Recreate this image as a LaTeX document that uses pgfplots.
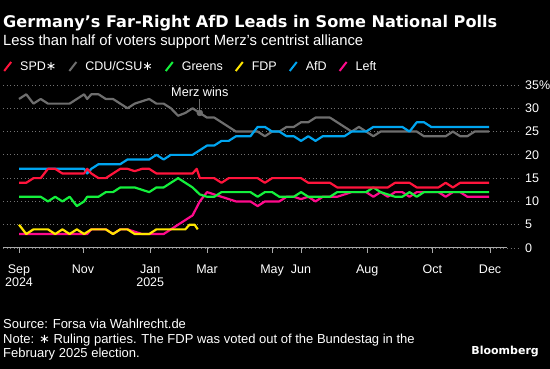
\documentclass[border=0pt]{standalone}
\usepackage{pgfplots}
\pgfplotsset{compat=1.18}
\usepackage{fontspec}
\setmainfont{Liberation Sans}
\newfontfamily\dejavu{DejaVu Sans}
\definecolor{spdc}{RGB}{255,20,60}
\definecolor{cduc}{RGB}{110,110,110}
\definecolor{grnc}{RGB}{20,240,60}
\definecolor{fdpc}{RGB}{255,230,0}
\definecolor{afdc}{RGB}{0,165,240}
\definecolor{leftc}{RGB}{255,10,140}
\definecolor{gridgray}{RGB}{115,115,115}
\definecolor{tickgray}{RGB}{170,170,170}
\begin{document}
\begin{tikzpicture}[x=1pt,y=1pt]
\fill[black] (0,0) rectangle (550,369);
\node[anchor=base west, inner sep=0pt, text=white, font=\dejavu\bfseries\fontsize{16.1}{18}\selectfont] at (3,341.6) {Germany’s Far-Right AfD Leads in Some National Polls};
\node[anchor=base west, inner sep=0pt, text=white, font=\fontsize{14.8}{17}\selectfont] at (3,323.4) {Less than half of voters support Merz’s centrist alliance};
\begin{axis}[
  at={(3pt,121pt)}, anchor=south west,
  scale only axis, width=515pt, height=163pt,
  xmin=-15.5, xmax=483, ymin=0, ymax=35,
  axis x line*=bottom, axis y line*=right,
  x axis line style={draw=none,-}, y axis line style={draw=none,-},
  xtick={0,62,127,182,245,273,337,400,456},
  xticklabels={Sep\\2024,Nov,Jan\\2025,Mar,May,Jun,Aug,Oct,Dec},
  xtick align=outside, major tick length=5pt,
  xtick style={color=tickgray, line width=0.8pt},
  ytick={0,5,10,15,20,25,30,35},
  yticklabels={0,5,10,15,20,25,30,35\%},
  ytick style={draw=none},
  xticklabel style={align=center, text=white, font=\fontsize{12.5}{13}\selectfont, inner sep=0pt, anchor=north, yshift=-12pt},
  yticklabel style={text=white, font=\fontsize{12.5}{13}\selectfont, inner sep=0pt, anchor=west, xshift=7pt},
  /pgf/number format/assume math mode=true,
  ymajorgrids, grid style={draw=gridgray, line width=0.9pt, dash pattern=on 1pt off 2.6pt},
  legend columns=-1,
  legend style={at={(0,1)}, anchor=west, yshift=18.5pt, draw=none, fill=none, text=white,
    font=\fontsize{12.5}{14}\selectfont, inner sep=0pt, nodes={inner sep=0pt},
    /tikz/every odd column/.append style={column sep=8pt},
    /tikz/every even column/.append style={column sep=12pt}},
  legend image code/.code={\draw[#1, line width=2pt] (0pt,-4.5pt) -- (7pt,4.5pt);},
  clip=false,
]
\addlegendimage{spdc}\addlegendentry{SPD{\dejavu ∗}}
\addlegendimage{cduc}\addlegendentry{CDU/CSU{\dejavu ∗}}
\addlegendimage{grnc}\addlegendentry{Greens}
\addlegendimage{fdpc}\addlegendentry{FDP}
\addlegendimage{afdc}\addlegendentry{AfD}
\addlegendimage{leftc}\addlegendentry{Left}

\draw[tickgray, line width=1pt] (axis cs:-15.5,0) -- (axis cs:472.4,0);

% Left
\addplot[leftc, line width=2.2pt, line join=round, forget plot] coordinates {
(0,3)(7,3)(14,3)(21,3)(28,3)(35,3)(42,3)(49,3)(56,3)(63,3)(66,3)(70,4)(77,4)(84,4)(91,3)(98,4)(105,4)(112,3.5)(119,3)(126,3)(133,3)(140,3)(147,4)(154,5)(161,6)(168,7)(175,10)(182,12)(189,11.5)(196,11)(203,10.5)(210,10)(217,10)(224,10)(231,9)(238,10)(245,10)(252,10)(259,11)(266,11)(273,10.5)(280,11)(287,10)(294,11)(301,11)(308,11)(315,11.5)(322,12)(329,12)(336,12)(343,11)(350,12)(357,11)(364,12)(371,12)(378,11)(385,12)(392,12)(399,12)(406,12)(413,11)(420,12)(427,12)(434,11)(441,11)(448,11)(455,11)};
% CDU/CSU
\addplot[cduc, line width=2.2pt, line join=round, forget plot] coordinates {
(0,32)(7,33)(14,31)(21,32)(28,31)(35,31)(42,31)(49,31)(56,32)(63,33)(66,32)(70,33)(77,33)(84,32)(91,32)(98,31)(105,30)(112,31)(119,31.5)(126,32)(133,31)(140,31)(147,30)(154,28.4)(161,29)(168,30)(175,29)(182,28)(189,28)(196,27)(203,26)(210,25)(217,25)(224,25)(231,25)(238,24)(245,25)(252,25)(259,26)(266,26)(273,27)(280,27)(287,28)(294,28)(301,28)(308,27)(315,26)(322,25)(329,26)(336,25)(343,24)(350,25)(357,25)(364,25)(371,25)(378,25)(385,25)(392,24)(399,24)(406,24)(413,24)(420,25)(427,24)(434,24)(441,25)(448,25)(455,25)};
% AfD
\addplot[afdc, line width=2.2pt, line join=round, forget plot] coordinates {
(0,17)(7,17)(14,17)(21,17)(28,17)(35,17)(42,17)(49,17)(56,17)(63,17)(66,16)(70,17)(77,18)(84,18)(91,18)(98,18)(105,19)(112,19)(119,19)(126,19)(133,20)(140,19)(147,20)(154,20)(161,20)(168,20)(175,21)(182,22)(189,22)(196,23)(203,23)(210,24)(217,24)(224,24)(231,26)(238,26)(245,25)(252,25)(259,24)(266,24)(273,23)(280,24)(287,23)(294,24)(301,24)(308,24)(315,24)(322,25)(329,25)(336,25)(343,26)(350,26)(357,26)(364,26)(371,26)(378,25)(385,27)(392,27)(399,26)(406,26)(413,26)(420,26)(427,26)(434,26)(441,26)(448,26)(455,26)};
% Greens
\addplot[grnc, line width=2.2pt, line join=round, forget plot] coordinates {
(0,11)(7,11)(14,11)(21,11)(28,10)(35,11)(42,10)(49,11)(56,9)(63,10)(66,11)(70,11)(77,11)(84,12)(91,12)(98,13)(105,13)(112,13)(119,12.5)(126,12)(133,13)(140,13)(147,14)(154,15)(161,14)(168,13)(175,11.5)(182,11)(189,11)(196,12)(203,12)(210,12)(217,12)(224,12)(231,11)(238,12)(245,12)(252,11)(259,11)(266,11)(273,12)(280,11)(287,11)(294,11)(301,11)(308,12)(315,12)(322,12)(329,12)(336,12)(343,13)(350,12)(357,11.5)(364,11)(371,11)(378,12)(385,11)(392,12)(399,12)(406,12)(413,12)(420,12)(427,12)(434,12)(441,12)(448,12)(455,12)};
% FDP
\addplot[fdpc, line width=2.2pt, line join=round, forget plot] coordinates {
(0,5)(7,3)(14,4)(21,4)(28,4)(35,3)(42,4)(49,3)(56,4)(63,3)(70,4)(77,4)(84,4)(91,3)(98,4)(105,4)(112,3)(119,3)(126,3)(133,4)(140,4)(147,4)(154,4)(161,4)(165,5)(170,5)(173,4)};
% SPD
\addplot[spdc, line width=2.2pt, line join=round, forget plot] coordinates {
(0,14)(7,14)(14,15)(21,15)(28,17)(35,17)(42,16)(49,16)(56,16)(63,16)(66,17)(70,16)(77,15)(84,15)(91,16)(98,17)(105,17)(112,16.5)(119,17)(126,17)(133,16)(140,16)(147,16)(154,16)(161,16)(168,16)(172,17)(175,15)(182,15)(189,15)(196,14)(203,15)(210,15)(217,15)(224,15)(231,15)(238,14)(245,15)(252,15)(259,15)(266,15)(273,15)(280,14)(287,14)(294,14)(301,14)(308,13)(315,13)(322,13)(329,13)(336,13)(343,13)(350,13)(357,13)(364,14)(371,14)(378,14)(385,13)(392,13)(399,13)(406,13)(413,14)(420,13)(427,14)(434,14)(441,14)(448,14)(455,14)};

% Merz wins annotation
\draw[cduc, line width=1pt] (axis cs:175,31.9) -- (axis cs:175,29);
\addplot[cduc, only marks, mark=*, mark size=3pt, forget plot] coordinates {(175,29)};
\node[anchor=base, inner sep=0pt, text=white, font=\fontsize{12.7}{14}\selectfont] at (axis cs:175,32.5) {Merz wins};
\end{axis}
\node[anchor=base west, inner sep=0pt, text=white, font=\fontsize{13}{14}\selectfont] at (3,40.2) {Source: Forsa via Wahlrecht.de};
\node[anchor=base west, inner sep=0pt, text=white, font=\fontsize{13}{14}\selectfont] at (3,25.7) {Note: {\dejavu ∗} Ruling parties. The FDP was voted out of the Bundestag in the};
\node[anchor=base west, inner sep=0pt, text=white, font=\fontsize{13}{14}\selectfont] at (3,11.2) {February 2025 election.};
\node[anchor=base east, inner sep=0pt, text=white, font=\dejavu\bfseries\fontsize{11}{13}\selectfont] at (539,14.3) {Bloomberg};
\pgfresetboundingbox
\useasboundingbox (0,0) rectangle (550,369);
\end{tikzpicture}
\end{document}
